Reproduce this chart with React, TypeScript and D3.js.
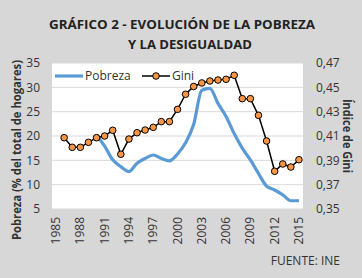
import React from "react";
import * as d3 from "d3";

const years = d3.range(1985, 2016).map(String);
const tickYears = ["1985","1988","1991","1994","1997","2000","2003","2006","2009","2012","2015"];
const giniYears = d3.range(1986, 2016).map(String);
const giniValues = [0.4086,0.4007,0.4007,0.4048,0.4086,0.41,0.4147,0.395,0.4075,0.4127,0.4149,0.4171,0.4218,0.4218,0.4319,0.4443,0.4507,0.4536,0.4552,0.456,0.4566,0.4599,0.4407,0.4407,0.427,0.4059,0.381,0.387,0.3845,0.3905];
const pobrezaYears = d3.range(1990, 2016).map(String);
const pobrezaValues = [20.2,17.9,15.1,13.7,12.7,14.4,15.4,16.1,15.4,14.9,16.3,18.6,22.4,29.4,29.8,26.7,24.0,20.5,17.5,15.1,12.3,9.7,8.9,7.9,6.7,6.7];
const leftTicks = [5,10,15,20,25,30,35];
const rightTicks = [0.35,0.37,0.39,0.41,0.43,0.45,0.47];

const W = 362, H = 278;
const plot = { left: 52, right: 303, top: 63, bottom: 209 };
const FONT = "'Open Sans', 'DejaVu Sans', sans-serif";
const TXT = "#333333";

export default function App() {
  const x = d3.scalePoint<string>().domain(years).range([plot.left, plot.right]).padding(0.5);
  const yL = d3.scaleLinear().domain([5, 35]).range([plot.bottom, plot.top]);
  const yR = d3.scaleLinear().domain([0.35, 0.47]).range([plot.bottom, plot.top]);

  const pobLine = d3.line<number>()
    .x((_, i) => x(pobrezaYears[i])!)
    .y((d) => yL(d))
    .curve(d3.curveMonotoneX)(pobrezaValues)!;
  const giniLine = d3.line<number>()
    .x((_, i) => x(giniYears[i])!)
    .y((d) => yR(d))(giniValues)!;

  return (
    <svg width={W} height={H} style={{ position: "absolute", left: 0, top: 0 }} fontFamily={FONT}>
      <rect x={0} y={0} width={W} height={H} fill="#d7d7d7" />
      <text x={182} y={29} textAnchor="middle" fontSize={13} fontWeight="bold" fill="#222" textLength={266} lengthAdjust="spacingAndGlyphs">GRÁFICO 2 - EVOLUCIÓN DE LA POBREZA</text>
      <text x={190} y={49} textAnchor="middle" fontSize={13} fontWeight="bold" fill="#222" textLength={124} lengthAdjust="spacingAndGlyphs">Y LA DESIGUALDAD</text>

      <rect x={plot.left} y={plot.top} width={plot.right - plot.left} height={plot.bottom - plot.top} fill="#ffffff" />
      {leftTicks.map((t) => (
        <line key={t} x1={plot.left} x2={plot.right} y1={yL(t)} y2={yL(t)} stroke="#d9d9d9" strokeWidth={1} />
      ))}
      {leftTicks.map((t) => (
        <text key={t} x={40} y={yL(t)} dy="0.35em" textAnchor="end" fontSize={12} fill={TXT}>{t}</text>
      ))}
      {rightTicks.map((t) => (
        <text key={t} x={316} y={yR(t)} dy="0.35em" textAnchor="start" fontSize={12} fill={TXT}>{d3.format(".2f")(t).replace(".", ",")}</text>
      ))}
      {tickYears.map((t) => (
        <text key={t} transform={`translate(${x(t)! + 4},217) rotate(-90)`} textAnchor="end" fontSize={12} fill={TXT}>{t}</text>
      ))}
      <text transform="translate(21,150) rotate(-90)" textAnchor="middle" fontSize={12} fontWeight="bold" fill={TXT} textLength={180} lengthAdjust="spacingAndGlyphs">Pobreza (% del total de hogares)</text>
      <text transform="translate(343,136) rotate(90)" textAnchor="middle" fontSize={12} fontWeight="bold" fill={TXT} textLength={74} lengthAdjust="spacingAndGlyphs">Índice de Gini</text>

      <path d={pobLine} fill="none" stroke="#5b9bd5" strokeWidth={3.2} />
      <path d={giniLine} fill="none" stroke="#000" strokeWidth={1.5} />
      {giniValues.map((v, i) => (
        <circle key={i} cx={x(giniYears[i])!} cy={yR(v)} r={3.3} fill="#f79646" stroke="#000" strokeWidth={1} />
      ))}

      <line x1={55} x2={83} y1={76} y2={76} stroke="#5b9bd5" strokeWidth={3.2} />
      <text x={85} y={76} dy="0.35em" fontSize={12} fill={TXT}>Pobreza</text>
      <line x1={142} x2={170} y1={76} y2={76} stroke="#000" strokeWidth={1.5} />
      <circle cx={156} cy={76} r={3.3} fill="#f79646" stroke="#000" strokeWidth={1} />
      <text x={172} y={76} dy="0.35em" fontSize={12} fill={TXT}>Gini</text>

      <text x={340} y={265} textAnchor="end" fontSize={12} fill={TXT}>FUENTE: INE</text>
    </svg>
  );
}
